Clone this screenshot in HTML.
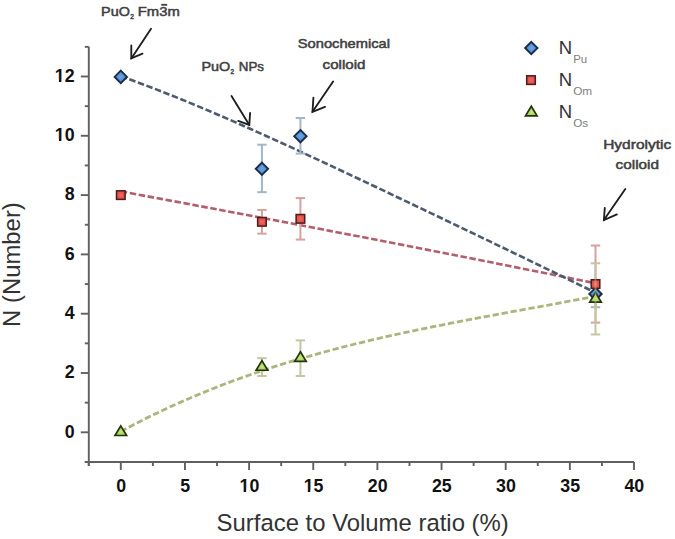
<!DOCTYPE html>
<html><head><meta charset="utf-8"><style>
html,body{margin:0;padding:0;background:#fff;}
body{width:675px;height:539px;overflow:hidden;}
svg{display:block;}
</style></head><body>
<svg width="675" height="539" viewBox="0 0 675 539"><defs>
<radialGradient id="gb" cx="50%" cy="50%" r="60%"><stop offset="0" stop-color="#6aa6e6"/><stop offset="1" stop-color="#3f7cc4"/></radialGradient>
<radialGradient id="gr" cx="50%" cy="50%" r="60%"><stop offset="0" stop-color="#f06a60"/><stop offset="1" stop-color="#d8453e"/></radialGradient>
<radialGradient id="gg" cx="50%" cy="60%" r="60%"><stop offset="0" stop-color="#c4e878"/><stop offset="1" stop-color="#96c24c"/></radialGradient>
</defs><rect width="675" height="539" fill="#fff"/><g stroke="#606060" stroke-width="1.9" fill="none"><line x1="88.8" y1="46.85" x2="88.8" y2="466.00"/><line x1="84.8" y1="462.0" x2="634.00" y2="462.0"/><line x1="84.8" y1="461.95" x2="88.8" y2="461.95"/><line x1="80.8" y1="432.30" x2="88.8" y2="432.30"/><line x1="84.8" y1="402.65" x2="88.8" y2="402.65"/><line x1="80.8" y1="373.00" x2="88.8" y2="373.00"/><line x1="84.8" y1="343.35" x2="88.8" y2="343.35"/><line x1="80.8" y1="313.70" x2="88.8" y2="313.70"/><line x1="84.8" y1="284.05" x2="88.8" y2="284.05"/><line x1="80.8" y1="254.40" x2="88.8" y2="254.40"/><line x1="84.8" y1="224.75" x2="88.8" y2="224.75"/><line x1="80.8" y1="195.10" x2="88.8" y2="195.10"/><line x1="84.8" y1="165.45" x2="88.8" y2="165.45"/><line x1="80.8" y1="135.80" x2="88.8" y2="135.80"/><line x1="84.8" y1="106.15" x2="88.8" y2="106.15"/><line x1="80.8" y1="76.50" x2="88.8" y2="76.50"/><line x1="84.8" y1="46.85" x2="88.8" y2="46.85"/><line x1="88.72" y1="462.0" x2="88.72" y2="466.0"/><line x1="120.80" y1="462.0" x2="120.80" y2="470.0"/><line x1="152.88" y1="462.0" x2="152.88" y2="466.0"/><line x1="184.95" y1="462.0" x2="184.95" y2="470.0"/><line x1="217.02" y1="462.0" x2="217.02" y2="466.0"/><line x1="249.10" y1="462.0" x2="249.10" y2="470.0"/><line x1="281.18" y1="462.0" x2="281.18" y2="466.0"/><line x1="313.25" y1="462.0" x2="313.25" y2="470.0"/><line x1="345.32" y1="462.0" x2="345.32" y2="466.0"/><line x1="377.40" y1="462.0" x2="377.40" y2="470.0"/><line x1="409.48" y1="462.0" x2="409.48" y2="466.0"/><line x1="441.55" y1="462.0" x2="441.55" y2="470.0"/><line x1="473.62" y1="462.0" x2="473.62" y2="466.0"/><line x1="505.70" y1="462.0" x2="505.70" y2="470.0"/><line x1="537.77" y1="462.0" x2="537.77" y2="466.0"/><line x1="569.85" y1="462.0" x2="569.85" y2="470.0"/><line x1="601.92" y1="462.0" x2="601.92" y2="466.0"/><line x1="634.00" y1="462.0" x2="634.00" y2="470.0"/></g><g font-family="Liberation Sans, sans-serif" font-weight="bold" font-size="17.8" fill="#111"><text x="74.6" y="437.60" text-anchor="end">0</text><text x="74.6" y="378.30" text-anchor="end">2</text><text x="74.6" y="319.00" text-anchor="end">4</text><text x="74.6" y="259.70" text-anchor="end">6</text><text x="74.6" y="200.40" text-anchor="end">8</text><text x="74.6" y="141.10" text-anchor="end">10</text><text x="74.6" y="81.80" text-anchor="end">12</text><text x="121.10" y="492.0" text-anchor="middle">0</text><text x="185.25" y="492.0" text-anchor="middle">5</text><text x="249.40" y="492.0" text-anchor="middle">10</text><text x="313.55" y="492.0" text-anchor="middle">15</text><text x="377.70" y="492.0" text-anchor="middle">20</text><text x="441.85" y="492.0" text-anchor="middle">25</text><text x="506.00" y="492.0" text-anchor="middle">30</text><text x="570.15" y="492.0" text-anchor="middle">35</text><text x="634.30" y="492.0" text-anchor="middle">40</text></g><rect x="54.92" y="138.93" width="4.03" height="2.82" fill="#fff"/><rect x="61.40" y="138.93" width="3.56" height="2.82" fill="#fff"/><rect x="54.92" y="79.63" width="4.03" height="2.82" fill="#fff"/><rect x="61.40" y="79.63" width="3.56" height="2.82" fill="#fff"/><rect x="239.62" y="489.83" width="4.03" height="2.82" fill="#fff"/><rect x="246.10" y="489.83" width="3.56" height="2.82" fill="#fff"/><rect x="303.77" y="489.83" width="4.03" height="2.82" fill="#fff"/><rect x="310.25" y="489.83" width="3.56" height="2.82" fill="#fff"/><text x="216.6" y="530.6" font-family="Liberation Sans, sans-serif" font-size="23.9" fill="#333">Surface to Volume ratio (%)</text><text transform="translate(20.0,326.9) rotate(-90)" font-family="Liberation Sans, sans-serif" font-size="23" fill="#333" textLength="124.7" lengthAdjust="spacingAndGlyphs">N (Number)</text><path d="M120.80,191.41 L128.85,192.90 L136.89,194.39 L144.94,195.88 L152.98,197.38 L161.03,198.87 L169.08,200.37 L177.12,201.88 L185.17,203.38 L193.21,204.89 L201.26,206.39 L209.31,207.91 L217.35,209.42 L225.40,210.94 L233.44,212.45 L241.49,213.97 L249.53,215.50 L257.58,217.02 L265.63,218.55 L273.67,220.08 L281.72,221.61 L289.76,223.15 L297.81,224.69 L305.86,226.23 L313.90,227.77 L321.95,229.31 L329.99,230.86 L338.04,232.41 L346.09,233.96 L354.13,235.52 L362.18,237.07 L370.22,238.63 L378.27,240.19 L386.32,241.76 L394.36,243.33 L402.41,244.89 L410.45,246.47 L418.50,248.04 L426.55,249.61 L434.59,251.19 L442.64,252.77 L450.68,254.36 L458.73,255.94 L466.78,257.53 L474.82,259.12 L482.87,260.71 L490.91,262.31 L498.96,263.91 L507.00,265.51 L515.05,267.11 L523.10,268.71 L531.14,270.32 L539.19,271.93 L547.23,273.54 L555.28,275.16 L563.33,276.77 L571.37,278.39 L579.42,280.02 L587.46,281.64 L595.51,283.27" fill="none" stroke="#b35e6c" stroke-width="2.6" stroke-dasharray="6.5 2.6"/><path d="M120.80,431.45 L128.85,427.16 L136.89,422.99 L144.94,418.92 L152.98,414.96 L161.03,411.11 L169.08,407.36 L177.12,403.71 L185.17,400.16 L193.21,396.70 L201.26,393.34 L209.31,390.07 L217.35,386.89 L225.40,383.79 L233.44,380.78 L241.49,377.86 L249.53,375.01 L257.58,372.24 L265.63,369.54 L273.67,366.92 L281.72,364.37 L289.76,361.89 L297.81,359.48 L305.86,357.13 L313.90,354.84 L321.95,352.61 L329.99,350.44 L338.04,348.32 L346.09,346.26 L354.13,344.25 L362.18,342.28 L370.22,340.36 L378.27,338.49 L386.32,336.66 L394.36,334.86 L402.41,333.11 L410.45,331.39 L418.50,329.70 L426.55,328.04 L434.59,326.41 L442.64,324.81 L450.68,323.23 L458.73,321.67 L466.78,320.13 L474.82,318.61 L482.87,317.10 L490.91,315.60 L498.96,314.12 L507.00,312.64 L515.05,311.16 L523.10,309.69 L531.14,308.23 L539.19,306.76 L547.23,305.28 L555.28,303.80 L563.33,302.32 L571.37,300.82 L579.42,299.31 L587.46,297.78 L595.51,296.24" fill="none" stroke="#a9b67c" stroke-width="2.8" stroke-dasharray="6.3 2.8"/><path d="M120.80,76.21 L128.85,79.09 L136.89,82.04 L144.94,85.05 L152.98,88.12 L161.03,91.24 L169.08,94.42 L177.12,97.65 L185.17,100.92 L193.21,104.24 L201.26,107.59 L209.31,110.99 L217.35,114.43 L225.40,117.90 L233.44,121.41 L241.49,124.94 L249.53,128.51 L257.58,132.10 L265.63,135.71 L273.67,139.35 L281.72,143.01 L289.76,146.69 L297.81,150.39 L305.86,154.11 L313.90,157.84 L321.95,161.59 L329.99,165.34 L338.04,169.11 L346.09,172.89 L354.13,176.68 L362.18,180.48 L370.22,184.29 L378.27,188.10 L386.32,191.92 L394.36,195.75 L402.41,199.57 L410.45,203.41 L418.50,207.25 L426.55,211.09 L434.59,214.93 L442.64,218.78 L450.68,222.63 L458.73,226.48 L466.78,230.34 L474.82,234.20 L482.87,238.06 L490.91,241.93 L498.96,245.80 L507.00,249.67 L515.05,253.55 L523.10,257.43 L531.14,261.32 L539.19,265.22 L547.23,269.12 L555.28,273.03 L563.33,276.95 L571.37,280.88 L579.42,284.82 L587.46,288.77 L595.51,292.74" fill="none" stroke="#4c5b70" stroke-width="2.6" stroke-dasharray="6.5 2.6"/><g stroke="#a2b6c8" stroke-width="2.0" fill="none"><line x1="261.93" y1="144.69" x2="261.93" y2="192.14"/><line x1="257.23" y1="144.69" x2="266.63" y2="144.69"/><line x1="257.23" y1="192.14" x2="266.63" y2="192.14"/></g><g stroke="#a2b6c8" stroke-width="2.0" fill="none"><line x1="300.42" y1="118.01" x2="300.42" y2="153.59"/><line x1="295.72" y1="118.01" x2="305.12" y2="118.01"/><line x1="295.72" y1="153.59" x2="305.12" y2="153.59"/></g><g stroke="#a2b6c8" stroke-width="2.0" fill="none"><line x1="595.51" y1="279.90" x2="595.51" y2="307.18"/><line x1="590.81" y1="279.90" x2="600.21" y2="279.90"/><line x1="590.81" y1="307.18" x2="600.21" y2="307.18"/></g><g stroke="#d8a0a0" stroke-width="2.0" fill="none"><line x1="261.93" y1="209.93" x2="261.93" y2="233.65"/><line x1="257.23" y1="209.93" x2="266.63" y2="209.93"/><line x1="257.23" y1="233.65" x2="266.63" y2="233.65"/></g><g stroke="#d8a0a0" stroke-width="2.0" fill="none"><line x1="300.42" y1="198.07" x2="300.42" y2="239.58"/><line x1="295.72" y1="198.07" x2="305.12" y2="198.07"/><line x1="295.72" y1="239.58" x2="305.12" y2="239.58"/></g><g stroke="#d8a0a0" stroke-width="2.0" fill="none"><line x1="595.51" y1="245.51" x2="595.51" y2="322.60"/><line x1="590.81" y1="245.51" x2="600.21" y2="245.51"/><line x1="590.81" y1="322.60" x2="600.21" y2="322.60"/></g><g stroke="#c2c6a2" stroke-width="2.0" fill="none"><line x1="261.93" y1="358.18" x2="261.93" y2="375.97"/><line x1="257.23" y1="358.18" x2="266.63" y2="358.18"/><line x1="257.23" y1="375.97" x2="266.63" y2="375.97"/></g><g stroke="#c2c6a2" stroke-width="2.0" fill="none"><line x1="300.42" y1="340.38" x2="300.42" y2="375.97"/><line x1="295.72" y1="340.38" x2="305.12" y2="340.38"/><line x1="295.72" y1="375.97" x2="305.12" y2="375.97"/></g><g stroke="#c2c6a2" stroke-width="2.0" fill="none"><line x1="595.51" y1="263.30" x2="595.51" y2="334.46"/><line x1="590.81" y1="263.30" x2="600.21" y2="263.30"/><line x1="590.81" y1="334.46" x2="600.21" y2="334.46"/></g><path d="M120.80,70.70 L127.00,76.90 L120.80,83.10 L114.60,76.90Z" fill="url(#gb)" stroke="#1c2c45" stroke-width="1.9"/><path d="M261.93,162.62 L268.13,168.82 L261.93,175.02 L255.73,168.82Z" fill="url(#gb)" stroke="#1c2c45" stroke-width="1.9"/><path d="M300.42,130.00 L306.62,136.20 L300.42,142.40 L294.22,136.20Z" fill="url(#gb)" stroke="#1c2c45" stroke-width="1.9"/><path d="M595.51,287.74 L601.71,293.94 L595.51,300.14 L589.31,293.94Z" fill="url(#gb)" stroke="#1c2c45" stroke-width="1.9"/><rect x="116.50" y="190.80" width="8.60" height="8.60" fill="url(#gr)" stroke="#4a1c1c" stroke-width="1.5"/><rect x="257.63" y="217.49" width="8.60" height="8.60" fill="url(#gr)" stroke="#4a1c1c" stroke-width="1.5"/><rect x="296.12" y="214.52" width="8.60" height="8.60" fill="url(#gr)" stroke="#4a1c1c" stroke-width="1.5"/><rect x="591.21" y="279.75" width="8.60" height="8.60" fill="url(#gr)" stroke="#4a1c1c" stroke-width="1.5"/><path d="M120.80,425.90 L126.60,435.50 L115.00,435.50Z" fill="url(#gg)" stroke="#25340f" stroke-width="1.7" stroke-linejoin="miter"/><path d="M261.93,360.67 L267.73,370.27 L256.13,370.27Z" fill="url(#gg)" stroke="#25340f" stroke-width="1.7" stroke-linejoin="miter"/><path d="M300.42,351.78 L306.22,361.38 L294.62,361.38Z" fill="url(#gg)" stroke="#25340f" stroke-width="1.7" stroke-linejoin="miter"/><path d="M595.51,292.48 L601.31,302.07 L589.71,302.07Z" fill="url(#gg)" stroke="#25340f" stroke-width="1.7" stroke-linejoin="miter"/><line x1="595.51" y1="278.12" x2="595.51" y2="307.77" stroke="#c2c6a2" stroke-width="2" stroke-opacity="0.45"/><path d="M531.30,41.80 L537.50,48.00 L531.30,54.20 L525.10,48.00Z" fill="url(#gb)" stroke="#1c2c45" stroke-width="1.9"/><rect x="526.70" y="75.80" width="8.60" height="8.60" fill="url(#gr)" stroke="#4a1c1c" stroke-width="1.5"/><path d="M531.30,106.20 L537.10,115.80 L525.50,115.80Z" fill="url(#gg)" stroke="#25340f" stroke-width="1.7" stroke-linejoin="miter"/><g font-family="Liberation Sans, sans-serif" fill="#2a2a2a"><text x="558.8" y="54.0" font-size="18.5" fill="#333">N</text><text x="573.2" y="62.5" font-size="10.5" fill="#808080" textLength="14.0" lengthAdjust="spacingAndGlyphs">Pu</text><text x="558.8" y="86.0" font-size="18.5" fill="#333">N</text><text x="573.2" y="94.5" font-size="10.5" fill="#808080" textLength="19.0" lengthAdjust="spacingAndGlyphs">Om</text><text x="558.8" y="118.0" font-size="18.5" fill="#333">N</text><text x="573.2" y="126.5" font-size="10.5" fill="#808080" textLength="15.0" lengthAdjust="spacingAndGlyphs">Os</text></g><g font-family="Liberation Sans, sans-serif" font-weight="normal" font-size="13" fill="#404040" stroke="#404040" stroke-width="0.5"><text x="297.8" y="48.4" textLength="92.2" lengthAdjust="spacingAndGlyphs">Sonochemical</text><text x="322.6" y="68.5" textLength="42.9" lengthAdjust="spacingAndGlyphs">colloid</text><text x="603.2" y="149.3" textLength="68.0" lengthAdjust="spacingAndGlyphs">Hydrolytic</text><text x="615.6" y="169.0" textLength="43.4" lengthAdjust="spacingAndGlyphs">colloid</text><text x="101.1" y="15.6" textLength="28.8" lengthAdjust="spacingAndGlyphs">PuO</text><text font-size="8" x="130.2" y="18.6" textLength="3.6" lengthAdjust="spacingAndGlyphs">2</text><text x="137.8" y="15.6" textLength="42.0" lengthAdjust="spacingAndGlyphs">Fm3m</text><line x1="161.2" y1="4.8" x2="167.2" y2="4.8" stroke="#404040" stroke-width="1.8"/><text x="201.4" y="71.0" textLength="28.8" lengthAdjust="spacingAndGlyphs">PuO</text><text font-size="8" x="230.4" y="74.4" textLength="3.6" lengthAdjust="spacingAndGlyphs">2</text><text x="238.8" y="71.0" textLength="25.2" lengthAdjust="spacingAndGlyphs">NPs</text></g><g stroke="#1e1e1e" stroke-width="1.85" fill="none" stroke-linecap="round"><line x1="151.05" y1="28.8" x2="131.3" y2="58.4"/><polyline points="131.3,45.5 131.3,58.4 142.5,53.6"/></g><g stroke="#1e1e1e" stroke-width="1.85" fill="none" stroke-linecap="round"><line x1="231.5" y1="96" x2="249.3" y2="124.9"/><polyline points="250.1,113 249.3,124.9 238.2,120.9"/></g><g stroke="#1e1e1e" stroke-width="1.85" fill="none" stroke-linecap="round"><line x1="333.1" y1="81.4" x2="312.5" y2="111.8"/><polyline points="313.4,97.6 312.5,111.8 325,106.8"/></g><g stroke="#1e1e1e" stroke-width="1.85" fill="none" stroke-linecap="round"><line x1="625.3" y1="189" x2="603.9" y2="220"/><polyline points="604.8,207.9 603.9,220 616.9,214.4"/></g></svg>
</body></html>
